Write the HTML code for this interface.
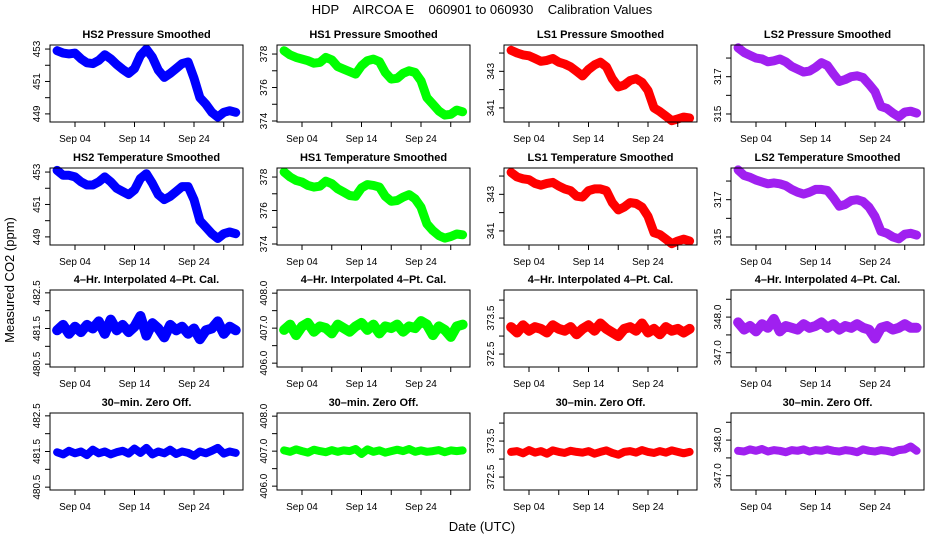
<!DOCTYPE html>
<html><head><meta charset="utf-8"><style>
body{margin:0;background:#fff}
svg{display:block;font-family:"Liberation Sans",sans-serif}
.pt{font-weight:bold;font-size:11px}
.tk{font-size:10px}
</style></head><body>
<svg id="chart" width="936" height="540" viewBox="0 0 936 540" xmlns="http://www.w3.org/2000/svg">
<text x="482" y="14" text-anchor="middle" font-size="13" style="white-space:pre">HDP    AIRCOA E    060901 to 060930    Calibration Values</text>
<text transform="translate(14,280) rotate(-90)" text-anchor="middle" font-size="13">Measured CO2 (ppm)</text>
<text x="482" y="531" text-anchor="middle" font-size="13">Date (UTC)</text>
<g id="panels"></g>
</svg>
<script>
const days=[1,2,3,4,5,6,7,8,9,10,11,12,13,14,15,16,17,18,19,20,21,22,23,24,25,26,27,28,29,30,31];
const xTickDays=[4,9,14,19,24,29];
const xTickLabels=["Sep 04","","Sep 14","","Sep 24",""];
const hs2Pressure=[452.9,452.75,452.7,452.75,452.4,452.15,452.1,452.3,452.65,452.4,452.05,451.75,451.5,451.8,452.6,453.0,452.5,451.7,451.25,451.5,451.8,452.1,452.2,451.2,450.0,449.6,449.1,448.8,449.1,449.2,449.1];
const hs1Pressure=[378.2,377.95,377.8,377.7,377.6,377.45,377.5,377.8,377.65,377.25,377.1,376.95,376.8,377.3,377.6,377.7,377.55,376.9,376.5,376.55,376.85,377.0,376.9,376.4,375.4,375.0,374.6,374.35,374.4,374.65,374.55];
const ls1Pressure=[344.15,344.0,343.9,343.85,343.7,343.55,343.6,343.7,343.5,343.4,343.25,343.0,342.75,343.1,343.35,343.5,343.25,342.6,342.15,342.25,342.5,342.6,342.4,341.95,341.0,340.8,340.55,340.3,340.4,340.5,340.45];
const ls2Pressure=[318.55,318.3,318.15,318.0,317.95,317.8,317.85,317.95,317.8,317.55,317.4,317.25,317.3,317.5,317.75,317.6,317.15,316.75,316.85,317.0,317.05,316.95,316.6,316.2,315.4,315.3,315.05,314.85,315.1,315.15,315.05];
const hs2Temp=[453.1,452.8,452.8,452.7,452.4,452.2,452.2,452.4,452.7,452.4,452.0,451.8,451.6,451.9,452.6,452.9,452.3,451.6,451.3,451.5,451.8,452.1,452.1,451.3,450.0,449.6,449.2,448.9,449.2,449.3,449.2];
const hs1Temp=[378.3,378.0,377.8,377.7,377.5,377.4,377.45,377.75,377.6,377.3,377.1,376.9,376.85,377.35,377.55,377.5,377.4,376.85,376.55,376.6,376.8,376.95,376.7,376.2,375.2,374.8,374.5,374.35,374.45,374.6,374.55];
const ls1Temp=[344.2,343.95,343.85,343.8,343.6,343.5,343.6,343.65,343.45,343.3,343.2,342.9,342.85,343.2,343.3,343.3,343.2,342.55,342.15,342.3,342.55,342.5,342.3,341.8,340.9,340.8,340.55,340.3,340.45,340.55,340.45];
const ls2Temp=[318.6,318.3,318.2,318.05,317.95,317.85,317.9,317.85,317.75,317.55,317.4,317.3,317.4,317.55,317.55,317.5,317.1,316.65,316.75,316.95,317.0,316.9,316.6,316.1,315.3,315.2,315.0,314.9,315.15,315.2,315.1];
const hs2Interp=[481.45,481.6,481.35,481.55,481.4,481.6,481.5,481.7,481.35,481.75,481.45,481.6,481.4,481.55,481.85,481.3,481.65,481.5,481.25,481.6,481.45,481.55,481.35,481.5,481.2,481.45,481.5,481.7,481.35,481.55,481.45];
const hs1Interp=[406.95,407.1,406.8,407.05,407.15,406.9,407.05,407.0,406.85,407.1,407.0,406.9,407.05,407.15,406.95,407.1,406.85,407.05,407.0,407.1,406.9,407.05,407.0,407.2,407.1,406.8,407.05,406.95,406.75,407.05,407.1];
const ls1Interp=[373.25,373.1,373.3,373.15,373.25,373.2,373.1,373.3,373.2,373.15,373.25,373.05,373.2,373.3,373.15,373.35,373.2,373.1,373.0,373.2,373.25,373.15,373.35,373.1,373.2,373.05,373.25,373.15,373.2,373.1,373.2];
const ls2Interp=[347.85,347.65,347.75,347.6,347.8,347.7,347.95,347.6,347.75,347.7,347.65,347.8,347.7,347.75,347.85,347.7,347.8,347.65,347.75,347.7,347.8,347.7,347.65,347.4,347.7,347.75,347.65,347.7,347.8,347.7,347.7];
const hs2Zero=[481.48,481.42,481.52,481.45,481.5,481.4,481.55,481.45,481.5,481.42,481.48,481.52,481.44,481.58,481.46,481.6,481.42,481.5,481.45,481.55,481.43,481.5,481.46,481.38,481.5,481.45,481.52,481.6,481.44,481.5,481.46];
const hs1Zero=[407.02,406.98,407.05,407.0,406.96,407.04,407.0,406.97,407.03,406.98,407.02,407.0,407.06,406.92,407.05,406.98,407.02,406.96,407.0,407.04,407.0,407.06,406.98,407.02,406.98,407.0,407.03,406.97,407.02,407.0,407.02];
const ls1Zero=[373.2,373.22,373.16,373.25,373.18,373.22,373.15,373.24,373.2,373.17,373.23,373.2,373.18,373.22,373.15,373.2,373.24,373.17,373.12,373.2,373.22,373.18,373.25,373.2,373.17,373.22,373.18,373.24,373.2,373.16,373.2];
const ls2Zero=[347.7,347.68,347.74,347.7,347.75,347.68,347.72,347.7,347.66,347.72,347.7,347.74,347.68,347.72,347.7,347.74,347.7,347.68,347.72,347.7,347.66,347.74,347.7,347.68,347.72,347.7,347.66,347.72,347.74,347.82,347.7];

const NS="http://www.w3.org/2000/svg";
const root=document.getElementById('panels');
const colLeft=[50,277,504,731], rowTop=[45,168,290,413], W=193, H=77;
const colors=["#0000ff","#00ff00","#ff0000","#a020f0"];
const smoothRange=[[448.5,453.25],[373.94,378.54],[340.23,344.44],[314.57,318.7]];
const flatRange=[[480.42,482.58],[405.89,408.09],[372.14,374.28],[346.6,348.76]];
const smoothTicks=[[449,450,451,452,453],[374,375,376,377,378],[341,342,343,344],[315,316,317,318]];
const smoothLabels=[[449,451,453],[374,376,378],[341,343],[315,317]];
const flatTicks=[[480.5,481,481.5,482,482.5],[406,406.5,407,407.5,408],[372.5,373,373.5,374],[347,347.5,348,348.5]];
const flatLabels=[["480.5","481.5","482.5"],["406.0","407.0","408.0"],["372.5","373.5"],["347.0","348.0"]];
const rowTitles=[["HS2 Pressure Smoothed","HS1  Pressure Smoothed","LS1 Pressure Smoothed","LS2 Pressure Smoothed"],
["HS2 Temperature Smoothed","HS1 Temperature Smoothed","LS1 Temperature Smoothed","LS2 Temperature Smoothed"],
["4\u2013Hr. Interpolated 4\u2013Pt. Cal.","4\u2013Hr. Interpolated 4\u2013Pt. Cal.","4\u2013Hr. Interpolated 4\u2013Pt. Cal.","4\u2013Hr. Interpolated 4\u2013Pt. Cal."],
["30\u2013min. Zero Off.","30\u2013min. Zero Off.","30\u2013min. Zero Off.","30\u2013min. Zero Off."]];
const series=[[hs2Pressure,hs1Pressure,ls1Pressure,ls2Pressure],[hs2Temp,hs1Temp,ls1Temp,ls2Temp],[hs2Interp,hs1Interp,ls1Interp,ls2Interp],[hs2Zero,hs1Zero,ls1Zero,ls2Zero]];
const bandW=[9,9,10,8];

function mk(tag,attrs,parent){const e=document.createElementNS(NS,tag);for(const k in attrs)e.setAttribute(k,attrs[k]);parent.appendChild(e);return e;}

for(let r=0;r<4;r++){for(let c=0;c<4;c++){
  const L=colLeft[c],T=rowTop[r];
  const rng=r<2?smoothRange[c]:flatRange[c];
  const xs=d=>L+25+(d-4)*5.95;
  const ys=v=>T+H-(v-rng[0])/(rng[1]-rng[0])*H;
  const g=mk('g',{},root);
  
  
  const t=mk('text',{x:L+W/2,y:T-7,'text-anchor':'middle','class':'pt'},g);
  t.textContent=rowTitles[r][c];
  
  
  const vals=series[r][c];
  const pts=days.map((d,i)=>xs(d).toFixed(1)+','+ys(vals[i]).toFixed(1)).join(' ');
  const pl=mk('polyline',{points:pts,fill:'none',stroke:colors[c],'stroke-width':bandW[r],'stroke-linejoin':'round','stroke-linecap':'round'},g);
  
  
  days.forEach((d,i)=>{
    const ci=mk('circle',{cx:xs(d),cy:ys(vals[i]),r:3,fill:'none',stroke:colors[c],'stroke-width':1.5},g);
    
    
  });
  const box=mk('rect',{x:L,y:T,width:W,height:H,fill:'none',stroke:'#000','stroke-width':1},g);
  
  
  xTickDays.forEach((d,i)=>{
    mk('line',{x1:xs(d),x2:xs(d),y1:T+H,y2:T+H+5,stroke:'#000'},g);
    if(xTickLabels[i]){const tl=mk('text',{x:xs(d),y:T+H+20,'text-anchor':'middle','class':'tk'},g);tl.textContent=xTickLabels[i];
      
      }
  });
  const tks=r<2?smoothTicks[c]:flatTicks[c];
  const lbs=r<2?smoothLabels[c]:flatLabels[c];
  mk('line',{x1:L,x2:L,y1:ys(tks[0]),y2:ys(tks[tks.length-1]),stroke:'#000'},g);
  tks.forEach(v=>mk('line',{x1:L-5,x2:L,y1:ys(v),y2:ys(v),stroke:'#000'},g));
  lbs.forEach(v=>{const yy=ys(parseFloat(v));const tl=mk('text',{transform:'translate('+(L-10)+','+yy+') rotate(-90)','text-anchor':'middle','class':'tk'},g);tl.textContent=v;
    
    });
}}
</script>
</body></html>
